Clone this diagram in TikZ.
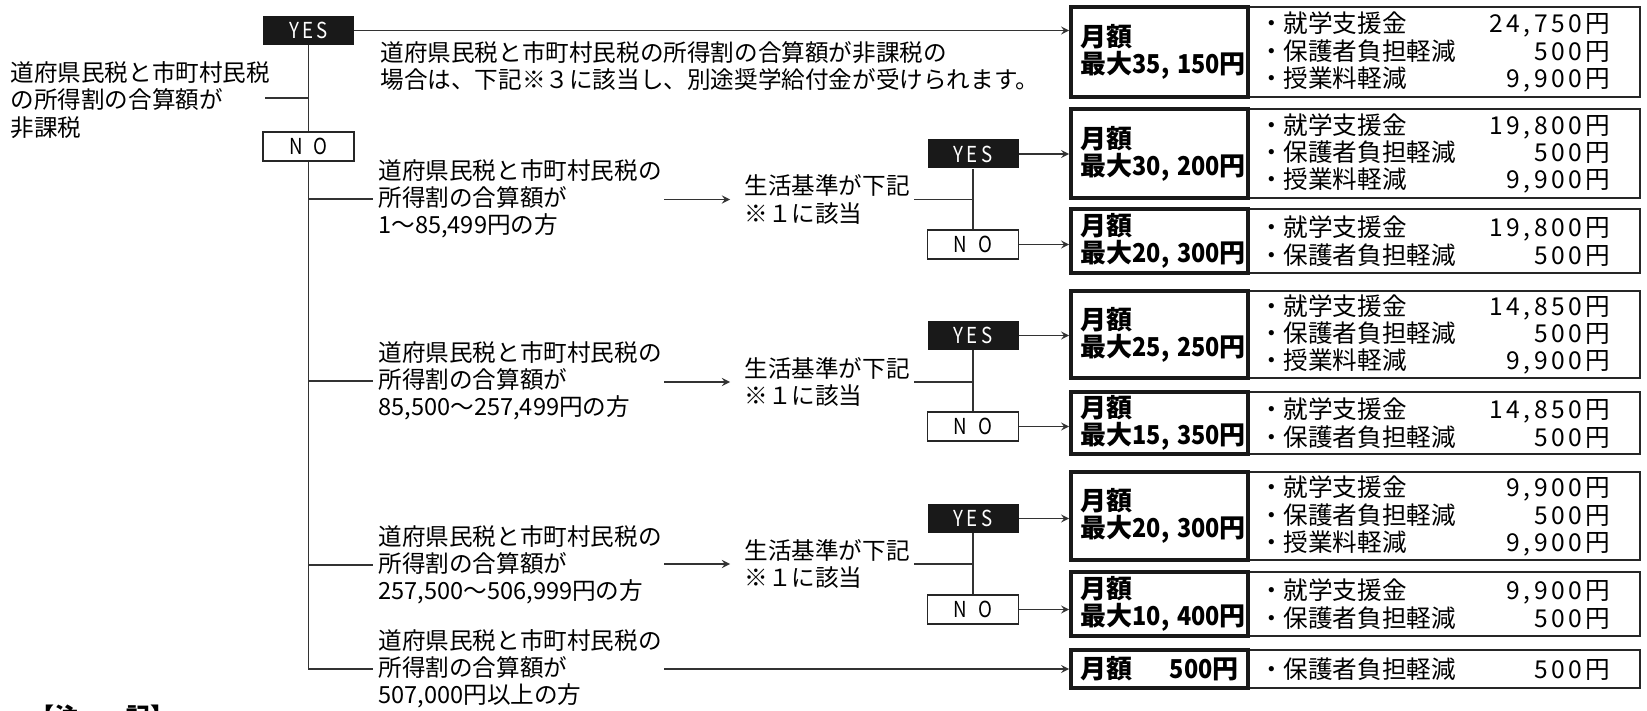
\documentclass[tikz,border=0pt]{standalone}
\usepackage{fontspec}
\setmainfont{Noto Sans CJK JP}
\newfontfamily\numfont[LetterSpace=14]{Noto Sans CJK JP}
\usetikzlibrary{arrows,positioning,calc}

\newcommand\costline[2]{・#1\hfill{\numfont #2}\rule{9.5pt}{0pt}}
\newcommand\yen[1]{\scalebox{0.9}[1]{#1}}

\begin{document}
\begin{tikzpicture}[
    x=0.5pt, y=-0.5pt,
    font=\fontsize{11.8}{13.6}\selectfont,
    txt/.style={anchor=west, align=left, inner sep=0pt},
    yesbox/.style={rectangle, fill=black!90, text=white, minimum width=45.5pt, minimum height=14.5pt, inner sep=0pt, font=\fontsize{11}{11}\selectfont},
    nobox/.style={rectangle, draw=black!85, line width=0.6pt, fill=white, minimum width=45.5pt, minimum height=14.5pt, inner sep=0pt, font=\fontsize{11}{11}\selectfont},
    sumbox/.style={rectangle, draw=black!90, line width=1.8pt, minimum width=88.5pt, text width=79pt, align=left, inner sep=0pt, font=\fontsize{13}{13.6}\selectfont\bfseries},
    listbox/.style={rectangle, draw=black!85, line width=0.9pt, minimum width=196pt, text width=185pt, align=left, inner sep=0pt, font=\fontsize{12.3}{13.65}\selectfont},
    link/.style={draw=black!80, line width=0.8pt},
    arrow/.style={link, ->, >=stealth}
]
    \useasboundingbox (0,0) rectangle (1647,711);

    % first question
    \node[txt] (lhsTxt) at (10,100) {道府県民税と市町村民税\\の所得割の合算額が\\非課税};
    \node[yesbox] (yesTop) at (308.5,30.5) {\scalebox{0.85}[1]{Y\,E\,S}};
    \node[nobox] (noTop) at (308.5,146.5) {\scalebox{0.85}[1]{N\hspace{0.6em}O}};
    \node[txt] (msgTop) at (380,66) {道府県民税と市町村民税の所得割の合算額が非課税の\\場合は、下記※３に該当し、別途奨学給付金が受けられます。};
    \coordinate (lhsEnd) at (265,98);

    % income brackets
    \node[txt] (condA) at (378,199) {道府県民税と市町村民税の\\所得割の合算額が\\1〜85,499円の方};
    \node[txt] (condB) at (378,381) {道府県民税と市町村民税の\\所得割の合算額が\\85,500〜257,499円の方};
    \node[txt] (condC) at (378,565) {道府県民税と市町村民税の\\所得割の合算額が\\257,500〜506,999円の方};
    \node[txt] (condD) at (378,669) {道府県民税と市町村民税の\\所得割の合算額が\\507,000円以上の方};

    \node[txt] (lifeA) at (744,199.5) {生活基準が下記\\※１に該当};
    \node[txt] (lifeB) at (744,382) {生活基準が下記\\※１に該当};
    \node[txt] (lifeC) at (744,564) {生活基準が下記\\※１に該当};

    \node[yesbox] (yesA) at (973,154) {\scalebox{0.85}[1]{Y\,E\,S}};
    \node[nobox] (noA) at (973,244.5) {\scalebox{0.85}[1]{N\hspace{0.6em}O}};
    \node[yesbox] (yesB) at (973,335.5) {\scalebox{0.85}[1]{Y\,E\,S}};
    \node[nobox] (noB) at (973,426.5) {\scalebox{0.85}[1]{N\hspace{0.6em}O}};
    \node[yesbox] (yesC) at (973,518.5) {\scalebox{0.85}[1]{Y\,E\,S}};
    \node[nobox] (noC) at (973,609.5) {\scalebox{0.85}[1]{N\hspace{0.6em}O}};

    % amounts
    \node[listbox, minimum height=45pt] (list0) at (1444,52) {\costline{就学支援金}{24,750円}\\\costline{保護者負担軽減}{500円}\\\costline{授業料軽減}{9,900円}};
    \node[listbox, minimum height=44.5pt] (listA1) at (1444,153.5) {\costline{就学支援金}{19,800円}\\\costline{保護者負担軽減}{500円}\\\costline{授業料軽減}{9,900円}};
    \node[listbox, minimum height=32pt] (listA2) at (1444,241) {\costline{就学支援金}{19,800円}\\\costline{保護者負担軽減}{500円}};
    \node[listbox, minimum height=43.5pt] (listB1) at (1444,334.5) {\costline{就学支援金}{14,850円}\\\costline{保護者負担軽減}{500円}\\\costline{授業料軽減}{9,900円}};
    \node[listbox, minimum height=31pt] (listB2) at (1444,423) {\costline{就学支援金}{14,850円}\\\costline{保護者負担軽減}{500円}};
    \node[listbox, minimum height=44pt] (listC1) at (1444,516) {\costline{就学支援金}{9,900円}\\\costline{保護者負担軽減}{500円}\\\costline{授業料軽減}{9,900円}};
    \node[listbox, minimum height=32pt] (listC2) at (1444,604) {\costline{就学支援金}{9,900円}\\\costline{保護者負担軽減}{500円}};
    \node[listbox, minimum height=19pt] (listD) at (1444,669) {\costline{保護者負担軽減}{500円}};

    \node[sumbox, minimum height=45pt] (sum0) at (1159.5,52) {月額\\最大\yen{35, 150}円};
    \node[sumbox, minimum height=44.5pt] (sumA1) at (1159.5,153.5) {月額\\最大\yen{30, 200}円};
    \node[sumbox, minimum height=32pt] (sumA2) at (1159.5,241) {月額\\最大\yen{20, 300}円};
    \node[sumbox, minimum height=43.5pt] (sumB1) at (1159.5,334.5) {月額\\最大\yen{25, 250}円};
    \node[sumbox, minimum height=31pt] (sumB2) at (1159.5,423) {月額\\最大\yen{15, 350}円};
    \node[sumbox, minimum height=44pt] (sumC1) at (1159.5,516) {月額\\最大\yen{20, 300}円};
    \node[sumbox, minimum height=32pt] (sumC2) at (1159.5,604) {月額\\最大\yen{10, 400}円};
    \node[sumbox, minimum height=19pt] (sumD) at (1159.5,669) {月額\hfill\yen{500}円};

    \node[anchor=base west, inner sep=0pt, font=\fontsize{12}{12}\selectfont\bfseries] (note) at (30,725) {【注　　記】};

    % connectors
    \draw[link] (yesTop.south) -- (noTop.north);
    \draw[link] (lhsEnd) -- (lhsEnd -| yesTop.south);
    \draw[arrow] (yesTop.east) -- (yesTop.east -| sum0.west);
    \draw[link] (noTop.south) |- ([xshift=-2.5pt]condD.west);
    \draw[link] (noTop.south |- condA.west) -- ([xshift=-2.5pt]condA.west);
    \draw[link] (noTop.south |- condB.west) -- ([xshift=-2.5pt]condB.west);
    \draw[link] (noTop.south |- condC.west) -- ([xshift=-2.5pt]condC.west);
    \draw[arrow] ([xshift=143pt]condD.west) -- (condD.west -| sumD.west);

    \draw[arrow] ([xshift=-40pt]lifeA.west) -- ([xshift=-7pt]lifeA.west);
    \draw[arrow] ([xshift=-40pt]lifeB.west) -- ([xshift=-7pt]lifeB.west);
    \draw[arrow] ([xshift=-40pt]lifeC.west) -- ([xshift=-7pt]lifeC.west);
    \draw[link] ([xshift=2pt]lifeA.east) -- (lifeA.east -| yesA.south);
    \draw[link] ([xshift=2pt]lifeB.east) -- (lifeB.east -| yesB.south);
    \draw[link] ([xshift=2pt]lifeC.east) -- (lifeC.east -| yesC.south);
    \draw[link] (yesA.south) -- (noA.north);
    \draw[link] (yesB.south) -- (noB.north);
    \draw[link] (yesC.south) -- (noC.north);

    \draw[arrow] (yesA.east) -- (yesA.east -| sumA1.west);
    \draw[arrow] (noA.east) -- (noA.east -| sumA2.west);
    \draw[arrow] (yesB.east) -- (yesB.east -| sumB1.west);
    \draw[arrow] (noB.east) -- (noB.east -| sumB2.west);
    \draw[arrow] (yesC.east) -- (yesC.east -| sumC1.west);
    \draw[arrow] (noC.east) -- (noC.east -| sumC2.west);
\end{tikzpicture}
\end{document}
